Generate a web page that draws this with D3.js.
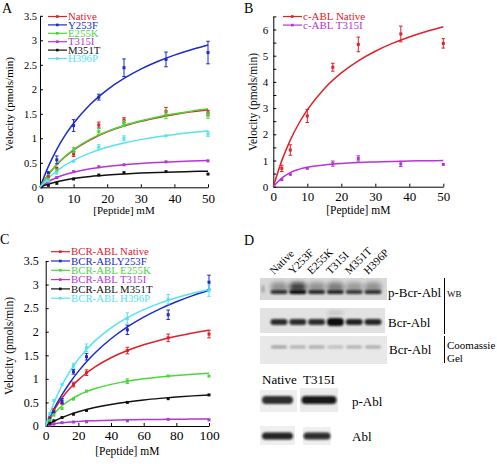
<!DOCTYPE html>
<html><head><meta charset="utf-8">
<script src="https://cdn.jsdelivr.net/npm/d3@7"></script>
<style>body{margin:0;background:#fff}svg{display:block}text{font-family:'Liberation Serif','Times New Roman',serif}</style>
</head><body><svg id="c" width="497" height="464"></svg>
<script>
// ---------- Panel A data ----------
const xA = [2.5, 5, 10, 17.5, 25, 37.5, 50];
const aNative = [0.22, 0.39, 0.68, 1.27, 1.37, 1.55, 1.52];
const aNativeErr = [0.03, 0.04, 0.05, 0.06, 0.05, 0.08, 0.05];
const aY253F = [0.3, 0.56, 1.26, 1.84, 2.44, 2.61, 2.75];
const aY253FErr = [0.03, 0.08, 0.12, 0.06, 0.18, 0.15, 0.23];
const aE255K = [0.17, 0.35, 0.76, 1.14, 1.3, 1.48, 1.47];
const aE255KErr = [0.03, 0.04, 0.05, 0.06, 0.06, 0.08, 0.06];
const aT315I = [0.1, 0.2, 0.32, 0.42, 0.46, 0.52, 0.54];
const aT315IErr = [0.01, 0.02, 0.02, 0.02, 0.02, 0.02, 0.02];
const aM351T = [0.04, 0.08, 0.17, 0.25, 0.3, 0.32, 0.27];
const aM351TErr = [0.01, 0.01, 0.01, 0.01, 0.01, 0.01, 0.01];
const aH396P = [0.13, 0.29, 0.53, 0.82, 1.0, 1.05, 1.09];
const aH396PErr = [0.02, 0.03, 0.03, 0.05, 0.05, 0.04, 0.05];
const fitXA = [0, 2.5, 5, 7.5, 10, 15, 20, 25, 30, 35, 40, 45, 50];
const fitANative = [0, 0.26, 0.46, 0.625, 0.76, 0.97, 1.13, 1.25, 1.345, 1.42, 1.485, 1.54, 1.585];
const fitAY253F = [0, 0.427, 0.774, 1.063, 1.306, 1.695, 1.99, 2.223, 2.412, 2.567, 2.697, 2.807, 2.903];
const fitAE255K = [0, 0.262, 0.468, 0.634, 0.771, 0.984, 1.141, 1.262, 1.357, 1.435, 1.5, 1.554, 1.601];
const fitAT315I = [0, 0.117, 0.2, 0.262, 0.309, 0.378, 0.425, 0.459, 0.486, 0.506, 0.523, 0.537, 0.548];
const fitAM351T = [0, 0.066, 0.115, 0.151, 0.18, 0.222, 0.251, 0.273, 0.29, 0.303, 0.314, 0.322, 0.33];
const fitAH396P = [0, 0.186, 0.333, 0.452, 0.551, 0.703, 0.817, 0.904, 0.973, 1.03, 1.077, 1.116, 1.15];
const namesA = ["Native", "Y253F", "E255K", "T315I", "M351T", "H396P"];
const yTicksA = [0, 0.5, 1, 1.5, 2, 2.5, 3, 3.5];
const xTicksA = [0, 10, 20, 30, 40, 50];

// ---------- Panel B data ----------
const xB = [2.5, 5, 10, 17.5, 25, 37.5, 50];
const bNative = [0.7, 1.4, 2.7, 4.56, 5.43, 5.83, 5.47];
const bNativeErr = [0.12, 0.2, 0.25, 0.15, 0.28, 0.3, 0.18];
const bT315I = [0.27, 0.47, 0.7, 0.88, 1.08, 0.87, 0.85];
const bT315IErr = [0.04, 0.04, 0.04, 0.1, 0.1, 0.1, 0.07];
const fitXB = [0, 2.5, 5, 7.5, 10, 15, 20, 25, 30, 35, 40, 45, 50];
const fitBNative = [0, 0.995, 1.779, 2.412, 2.933, 3.743, 4.343, 4.805, 5.171, 5.469, 5.716, 5.924, 6.102];
const fitBT315I = [0, 0.33, 0.54, 0.66, 0.74, 0.83, 0.885, 0.92, 0.945, 0.965, 0.979, 0.99, 0.999];
const namesB = ["c-ABL Native", "c-ABL T315I"];
const yTicksB = [0, 0.5, 1, 1.5, 2, 2.5, 3, 3.5, 4, 4.5, 5, 5.5, 6, 6.5];
const yLabelsB = [0, 1, 2, 3, 4, 5, 6];
const xTicksB = [0, 10, 20, 30, 40, 50];

// ---------- Panel C data ----------
const xC = [2.5, 5, 10, 17, 25, 50, 75, 100];
const cNative = [0.18, 0.35, 0.48, 0.88, 1.13, 1.6, 1.87, 1.95];
const cNativeErr = [0.02, 0.03, 0.04, 0.05, 0.06, 0.07, 0.08, 0.08];
const cY253F = [0.15, 0.3, 0.53, 1.15, 1.47, 2.04, 2.36, 3.05];
const cY253FErr = [0.02, 0.03, 0.05, 0.05, 0.07, 0.1, 0.1, 0.15];
const cE255K = [0.12, 0.23, 0.37, 0.57, 0.74, 0.95, 1.06, 1.06];
const cE255KErr = [0.02, 0.02, 0.03, 0.03, 0.04, 0.05, 0.04, 0.04];
const cT315I = [0.02, 0.04, 0.07, 0.085, 0.09, 0.11, 0.14, 0.13];
const cT315IErr = [0.01, 0.01, 0.01, 0.01, 0.01, 0.01, 0.01, 0.01];
const cM351T = [0.06, 0.11, 0.18, 0.25, 0.33, 0.5, 0.58, 0.66];
const cM351TErr = [0.01, 0.01, 0.01, 0.01, 0.01, 0.02, 0.02, 0.02];
const cH396P = [0.26, 0.54, 0.88, 1.28, 1.66, 2.28, 2.69, 2.87];
const cH396PErr = [0.02, 0.03, 0.04, 0.05, 0.08, 0.12, 0.1, 0.12];
const fitXC = [0, 2.5, 5, 10, 15, 20, 25, 30, 40, 50, 60, 70, 80, 90, 100];
const fitCNative = [0, 0.177, 0.333, 0.594, 0.805, 0.979, 1.124, 1.248, 1.447, 1.6, 1.722, 1.821, 1.902, 1.971, 2.03];
const fitCY253F = [0, 0.186, 0.358, 0.664, 0.928, 1.159, 1.363, 1.544, 1.851, 2.101, 2.309, 2.485, 2.636, 2.766, 2.881];
const fitCE255K = [0, 0.14, 0.254, 0.429, 0.556, 0.653, 0.729, 0.79, 0.883, 0.95, 1.0, 1.04, 1.072, 1.098, 1.12];
const fitCT315I = [0, 0.024, 0.043, 0.068, 0.085, 0.097, 0.106, 0.113, 0.124, 0.131, 0.136, 0.14, 0.143, 0.146, 0.148];
const fitCM351T = [0, 0.053, 0.1, 0.181, 0.247, 0.303, 0.35, 0.391, 0.458, 0.51, 0.552, 0.586, 0.615, 0.639, 0.66];
const fitCH396P = [0, 0.259, 0.486, 0.865, 1.169, 1.418, 1.625, 1.801, 2.082, 2.298, 2.468, 2.606, 2.72, 2.816, 2.897];
const namesC = ["BCR-ABL Native", "BCR-ABLY253F", "BCR-ABL E255K", "BCR-ABL T315I", "BCR-ABL M351T", "BCR-ABL H396P"];
const yTicksC = [0, 0.5, 1, 1.5, 2, 2.5, 3, 3.5];
const xTicksC = [0, 20, 40, 60, 80, 100];

// ---------- Panel D data ----------
const lanes = ["Native", "Y253F", "E255K", "T315I", "M351T", "H396P"];
const pBcrAbl = [0.8, 1.0, 0.85, 0.85, 0.75, 0.8];
const pBcrSmear = [0.35, 0.75, 0.35, 0.45, 0.3, 0.35];
const bcrAbl = [0.85, 0.85, 0.85, 1.0, 0.9, 0.88];
const coomassie = [0.16, 0.13, 0.14, 0.1, 0.13, 0.14];
const ablLanes = ["Native", "T315I"];
const pAbl = [0.85, 0.95];
const abl = [0.9, 0.85];

const colors = ["#e0202a", "#1c2bc8", "#48d83a", "#b535d6", "#111111", "#55e3ef"];
const colorsB = ["#e0202a", "#b535d6"];

const svg = d3.select("#c");
const defs = svg.append("defs");
defs.append("filter").attr("id", "blur").attr("x", "-30%").attr("y", "-80%").attr("width", "160%").attr("height", "260%")
  .append("feGaussianBlur").attr("stdDeviation", 1.3);
defs.append("filter").attr("id", "blur2").attr("x", "-30%").attr("y", "-80%").attr("width", "160%").attr("height", "260%")
  .append("feGaussianBlur").attr("stdDeviation", 2.2);

function panel(cfg) {
  const g = svg.append("g");
  const x = d3.scaleLinear().domain(cfg.xDom).range(cfg.xRange);
  const y = d3.scaleLinear().domain(cfg.yDom).range(cfg.yRange);
  const ya = d3.axisLeft(y).tickValues(cfg.yTicks).tickSizeInner(-3).tickSizeOuter(0).tickPadding(cfg.yPad)
    .tickFormat(d => cfg.yLabels.includes(d) ? d3.format("")(d) : "");
  const xa = d3.axisBottom(x).tickValues(cfg.xTicks).tickSizeInner(-3).tickSizeOuter(0).tickPadding(cfg.xPad);
  const gy = g.append("g").attr("transform", `translate(${cfg.xRange[0]},0)`).call(ya);
  const gx = g.append("g").attr("transform", `translate(0,${cfg.yRange[0]})`).call(xa);
  [gy, gx].forEach(a => { a.attr("font-family", null); a.selectAll("path,line").attr("stroke", "#000"); a.selectAll("text").attr("fill", "#000").style("font-family", "'Liberation Serif',serif"); });
  gy.selectAll("text").style("font-size", cfg.yFont + "px");
  gx.selectAll("text").style("font-size", cfg.xFont + "px");
  const line = d3.line().x(d => x(d[0])).y(d => y(d[1])).curve(d3.curveMonotoneX);
  cfg.series.forEach(s => {
    g.append("path").attr("d", line(s.fx.map((v, i) => [v, s.fy[i]]))).attr("fill", "none").attr("stroke", s.color).attr("stroke-width", 1.5);
  });
  cfg.series.forEach(s => {
    const pts = s.x.map((v, i) => ({ x: v, y: s.y[i], e: s.e[i] }));
    const eg = g.append("g").attr("stroke", s.color).attr("stroke-width", 1);
    pts.forEach(p => {
      if (p.e * Math.abs(y(0) - y(1)) > 2) {
        eg.append("line").attr("x1", x(p.x)).attr("x2", x(p.x)).attr("y1", y(p.y - p.e)).attr("y2", y(p.y + p.e));
        [p.y - p.e, p.y + p.e].forEach(v => eg.append("line").attr("x1", x(p.x) - 1.8).attr("x2", x(p.x) + 1.8).attr("y1", y(v)).attr("y2", y(v)));
      }
    });
    g.selectAll(null).data(pts).enter().append("rect")
      .attr("x", d => x(d.x) - 1.5).attr("y", d => y(d.y) - 1.5).attr("width", 3).attr("height", 3).attr("fill", s.color);
  });
  // legend
  cfg.series.forEach((s, i) => {
    const ly = cfg.legY + i * cfg.legDy;
    g.append("line").attr("x1", cfg.legX).attr("x2", cfg.legX + 19).attr("y1", ly).attr("y2", ly).attr("stroke", s.color).attr("stroke-width", 1.2);
    g.append("rect").attr("x", cfg.legX + 8).attr("y", ly - 1.3).attr("width", 2.6).attr("height", 2.6).attr("fill", s.color);
    g.append("text").attr("x", cfg.legX + 20).attr("y", ly + 3.6).attr("fill", s.color).style("font-size", cfg.legFont + "px").text(s.name);
  });
  g.append("text").attr("x", (cfg.xRange[0] + cfg.xRange[1]) / 2).attr("y", cfg.xTitleY).attr("text-anchor", "middle")
    .style("font-size", cfg.titleFont + "px").text("[Peptide] mM");
  g.append("text").attr("transform", `translate(${cfg.yTitleX},${cfg.yTitleCy}) rotate(-90)`).attr("text-anchor", "middle")
    .style("font-size", cfg.titleFont + "px").text("Velocity (pmols/min)");
  g.append("text").attr("x", cfg.letter[1]).attr("y", cfg.letter[2]).style("font-size", "14px").text(cfg.letter[0]);
}

panel({
  xDom: [0, 50], xRange: [40, 208], yDom: [0, 3.5], yRange: [187.3, 15.8],
  yTicks: yTicksA, yLabels: yTicksA, xTicks: xTicksA, yPad: 3, xPad: 6, yFont: 10.5, xFont: 13,
  series: [
    { name: namesA[0], color: colors[0], x: xA, y: aNative, e: aNativeErr, fx: fitXA, fy: fitANative },
    { name: namesA[1], color: colors[1], x: xA, y: aY253F, e: aY253FErr, fx: fitXA, fy: fitAY253F },
    { name: namesA[2], color: colors[2], x: xA, y: aE255K, e: aE255KErr, fx: fitXA, fy: fitAE255K },
    { name: namesA[3], color: colors[3], x: xA, y: aT315I, e: aT315IErr, fx: fitXA, fy: fitAT315I },
    { name: namesA[4], color: colors[4], x: xA, y: aM351T, e: aM351TErr, fx: fitXA, fy: fitAM351T },
    { name: namesA[5], color: colors[5], x: xA, y: aH396P, e: aH396PErr, fx: fitXA, fy: fitAH396P }
  ],
  legX: 48, legY: 16.5, legDy: 8.4, legFont: 10.8,
  xTitleY: 214, yTitleX: 13, yTitleCy: 104, titleFont: 11,
  letter: ["A", 2, 13]
});

panel({
  xDom: [0, 50], xRange: [273.3, 443.3], yDom: [0, 6.5], yRange: [186.7, 16.4],
  yTicks: yTicksB, yLabels: yLabelsB, xTicks: xTicksB, yPad: 5, xPad: 5, yFont: 11, xFont: 13,
  series: [
    { name: namesB[0], color: colorsB[0], x: xB, y: bNative, e: bNativeErr, fx: fitXB, fy: fitBNative },
    { name: namesB[1], color: colorsB[1], x: xB, y: bT315I, e: bT315IErr, fx: fitXB, fy: fitBT315I }
  ],
  legX: 283, legY: 16.5, legDy: 8.6, legFont: 11,
  xTitleY: 214, yTitleX: 257, yTitleCy: 102, titleFont: 11.5,
  letter: ["B", 244, 13]
});

panel({
  xDom: [0, 100], xRange: [45.7, 209], yDom: [0, 3.5], yRange: [426, 261],
  yTicks: yTicksC, yLabels: yTicksC, xTicks: xTicksC, yPad: 7, xPad: 4, yFont: 12, xFont: 13.5,
  series: [
    { name: namesC[0], color: colors[0], x: xC, y: cNative, e: cNativeErr, fx: fitXC, fy: fitCNative },
    { name: namesC[1], color: colors[1], x: xC, y: cY253F, e: cY253FErr, fx: fitXC, fy: fitCY253F },
    { name: namesC[2], color: colors[2], x: xC, y: cE255K, e: cE255KErr, fx: fitXC, fy: fitCE255K },
    { name: namesC[3], color: colors[3], x: xC, y: cT315I, e: cT315IErr, fx: fitXC, fy: fitCT315I },
    { name: namesC[4], color: colors[4], x: xC, y: cM351T, e: cM351TErr, fx: fitXC, fy: fitCM351T },
    { name: namesC[5], color: colors[5], x: xC, y: cH396P, e: cH396PErr, fx: fitXC, fy: fitCH396P }
  ],
  legX: 51, legY: 251.7, legDy: 9.3, legFont: 10.8,
  xTitleY: 455, yTitleX: 13, yTitleCy: 346, titleFont: 11.5,
  letter: ["C", 0, 244]
});

// ---------- Panel D ----------
const gd = svg.append("g");
gd.append("text").attr("x", 244).attr("y", 245).style("font-size", "14px").text("D");
const laneX = d3.scalePoint().domain(lanes).range([279, 373]);
gd.selectAll(null).data(lanes).enter().append("text")
  .attr("transform", d => `translate(${laneX(d) - 5},275) rotate(-45)`).style("font-size", "11px").text(d => d);

function blot(x0, x1, y0, y1, bg) {
  gd.append("rect").attr("x", x0).attr("y", y0).attr("width", x1 - x0).attr("height", y1 - y0).attr("fill", bg);
}
function band(cx, w, cy, h, op, f) {
  gd.append("rect").attr("x", cx - w / 2).attr("y", cy - h / 2).attr("width", w).attr("height", h).attr("rx", h / 2)
    .attr("fill", "#0a0a0a").attr("opacity", op).attr("filter", `url(#${f || "blur"})`);
}
// p-Bcr-Abl
blot(260, 387, 278, 300, "#d8d8d8");
lanes.forEach((l, i) => {
  band(laneX(l), 17, 287, 9, pBcrSmear[i], "blur2");
  band(laneX(l), 17, 292, 4, pBcrAbl[i]);
});
band(263, 3, 289, 8, 0.25, "blur");
// Bcr-Abl
blot(260, 385, 308, 333, "#e2e2e2");
lanes.forEach((l, i) => band(laneX(l), 17, 322, 6 + (bcrAbl[i] > 0.95 ? 2 : 0), bcrAbl[i]));
band(laneX("T315I"), 16, 313, 3, 0.2, "blur2");
// Coomassie
blot(260, 387, 336, 364, "#e8e8e8");
lanes.forEach((l, i) => band(laneX(l), 16, 347, 3, coomassie[i] * 2, "blur"));

const lbl = (x, y, t, s) => gd.append("text").attr("x", x).attr("y", y).style("font-size", s + "px").text(t);
lbl(388, 297, "p-Bcr-Abl", 13);
lbl(388, 327, "Bcr-Abl", 13);
lbl(389, 354, "Bcr-Abl", 13);
gd.append("line").attr("x1", 444.5).attr("x2", 444.5).attr("y1", 278).attr("y2", 334).attr("stroke", "#000");
gd.append("line").attr("x1", 444.5).attr("x2", 444.5).attr("y1", 336).attr("y2", 363).attr("stroke", "#000");
lbl(447, 297, "WB", 9);
lbl(447, 349, "Coomassie", 11);
lbl(447, 362, "Gel", 11);

// c-Abl blots
const ablX = d3.scaleOrdinal().domain(ablLanes).range([279, 319]);
const ablW = [31, 35];
lbl(262, 384, "Native", 13);
lbl(303, 384, "T315I", 13);
blot(260, 297, 390, 412, "#eeeeee");
blot(300, 338, 388, 412, "#eaeaea");
ablLanes.forEach((l, i) => band(ablX(l) - (i === 0 ? 1.5 : 0), ablW[i], 400, 8, pAbl[i]));
blot(260, 295, 426, 445, "#efefef");
blot(303, 331, 427, 445, "#efefef");
ablLanes.forEach((l, i) => band(ablX(l) - (i === 0 ? 1.5 : 2), [31, 27][i], 436, 7, abl[i]));
lbl(352, 406, "p-Abl", 13);
lbl(352, 441, "Abl", 13);
</script></body></html>
